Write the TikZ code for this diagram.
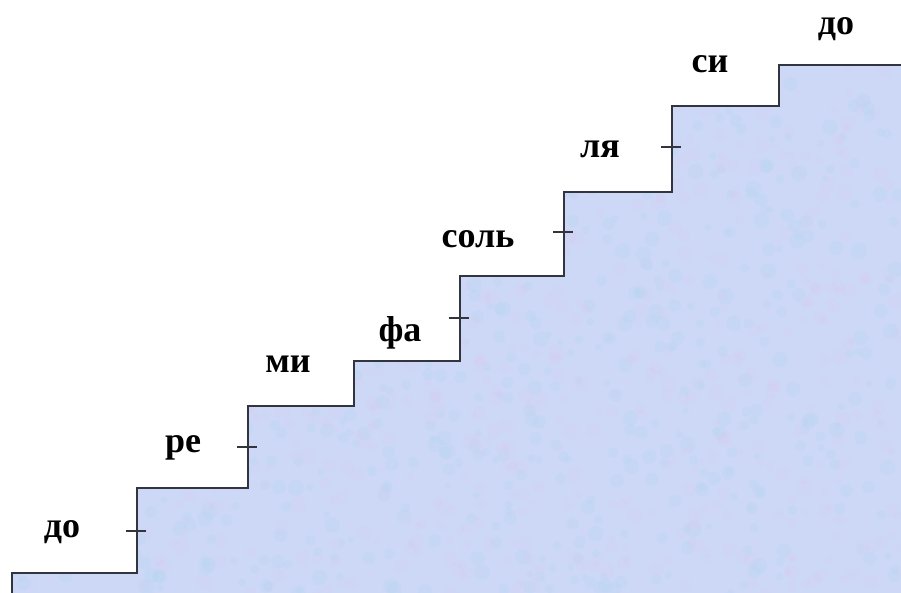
\documentclass[tikz,border=0pt]{standalone}
\usepackage{fontspec}
\setmainfont{Liberation Serif}
\definecolor{stairfill}{RGB}{204,216,245}
\definecolor{stairblue}{RGB}{176,214,242}
\definecolor{stairpink}{RGB}{220,202,240}
\definecolor{stairline}{RGB}{50,52,62}
\tikzset{note/.style={anchor=base,inner sep=0pt,font=\fontsize{36}{40}\selectfont\bfseries}}

\begin{document}
\begin{tikzpicture}[x=1pt,y=-1pt]
    \useasboundingbox (0,0) rectangle (901,593);
    \begin{scope}
        \clip (12,593) -- (12,573) -- (137,573) -- (137,488) -- (248,488) -- (248,406)
            -- (354,406) -- (354,361) -- (460,361) -- (460,276) -- (564,276) -- (564,192)
            -- (672,192) -- (672,106) -- (779,106) -- (779,65) -- (901,65) -- (901,593) -- cycle;
        \fill[stairfill] (0,0) rectangle (901,593);
        % mottled texture
        \pgfmathsetseed{7}
        \foreach \i in {1,...,1600} {
            \pgfmathsetmacro{\px}{12+889*rnd}
            \pgfmathsetmacro{\py}{65+528*rnd}
            \pgfmathsetmacro{\pr}{3+5*rnd}
            \pgfmathsetmacro{\pc}{rnd}
            \ifdim\pc pt<0.5pt
                \fill[stairblue,opacity=0.22] (\px,\py) circle[radius=\pr];
            \else
                \fill[stairpink,opacity=0.2] (\px,\py) circle[radius=\pr];
            \fi
        }
    \end{scope}
    \draw[stairline,line width=2.4pt] (12,593) -- (12,573) -- (137,573) -- (137,488) -- (248,488) -- (248,406)
        -- (354,406) -- (354,361) -- (460,361) -- (460,276) -- (564,276) -- (564,192)
        -- (672,192) -- (672,106) -- (779,106) -- (779,65) -- (901,65);
    % ticks on the whole steps
    \draw[stairline,line width=1.6pt] (126,531) -- (146,531);
    \draw[stairline,line width=1.6pt] (237,447) -- (257,447);
    \draw[stairline,line width=1.6pt] (449,318) -- (469,318);
    \draw[stairline,line width=1.6pt] (553,232) -- (573,232);
    \draw[stairline,line width=1.6pt] (661,147) -- (681,147);
    % note names
    \node[note] (do1) at (62,537) {до};
    \node[note] (re) at (183,452) {ре};
    \node[note] (mi) at (288,372) {ми};
    \node[note] (fa) at (400,341) {фа};
    \node[note] (sol) at (478,248) {соль};
    \node[note] (la) at (600,158) {ля};
    \node[note] (si) at (710,73) {си};
    \node[note] (do2) at (836,35) {до};
\end{tikzpicture}
\end{document}
